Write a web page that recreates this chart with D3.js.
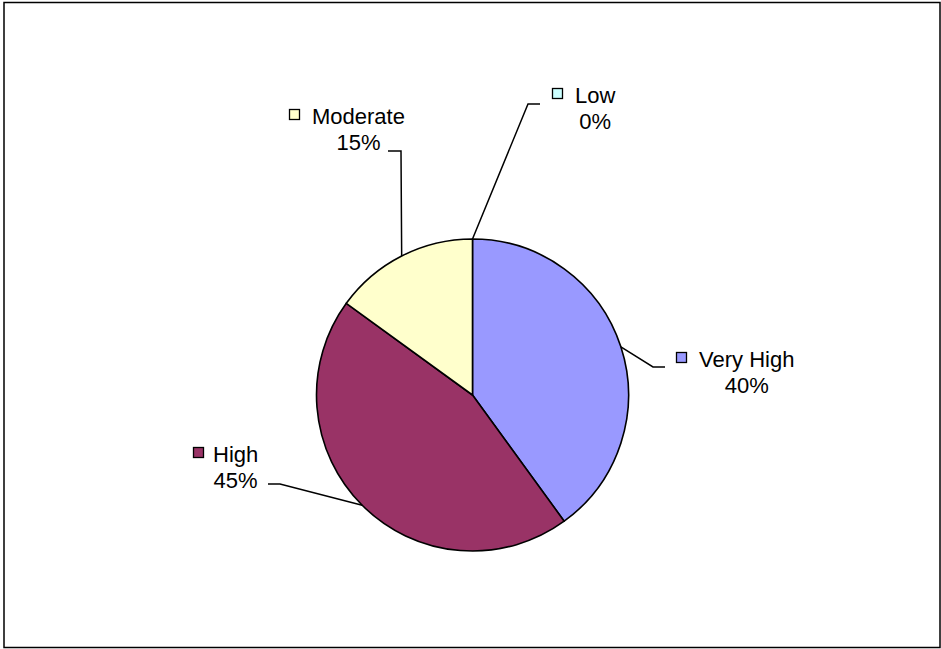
<!DOCTYPE html>
<html>
<head>
<meta charset="utf-8">
<script src="https://cdn.jsdelivr.net/npm/d3@7"></script>
<style>
  html, body { margin: 0; padding: 0; background: #fff; }
  svg { display: block; }
  text { font-family: "Liberation Sans", Arial, sans-serif; font-size: 22px; fill: #000; }
</style>
</head>
<body>
<svg id="chart" width="941" height="649"></svg>
<script>
// Risk level shares
const categories = ["Very High", "High", "Moderate", "Low"];
const values = [40, 45, 15, 0];
const colors = ["#9999FF", "#993366", "#FFFFCC", "#CCFFFF"];

// Label placement (text start, baselines, leader elbow) per category
const labelLayout = {
  "Very High": { keyX: 676, textX: 699, nameY: 367, pctY: 393, elbow: [[653, 367], [665, 367]] },
  "High":      { keyX: 193, textX: 213, nameY: 462, pctY: 488, elbow: [[280, 484], [268, 484]] },
  "Moderate":  { keyX: 289, textX: 312, nameY: 124, pctY: 150, elbow: [[401, 151], [388, 151]] },
  "Low":       { keyX: 552, textX: 575, nameY: 103, pctY: 129, elbow: [[528, 104], [540, 104]] }
};

const svg = d3.select("#chart");
const W = 941, H = 649;

// Outer frame
svg.append("rect")
  .attr("x", 4).attr("y", 2.5)
  .attr("width", 936).attr("height", 645)
  .attr("fill", "#fff")
  .attr("stroke", "#000").attr("stroke-width", 1.5);

const cx = 472.5, cy = 395, r = 156;
const total = d3.sum(values);

const data = categories.map((c, i) => ({ name: c, value: values[i], color: colors[i] }));

const pie = d3.pie().value(d => d.value).sort(null).startAngle(0).endAngle(2 * Math.PI);
const arcs = pie(data);
const arc = d3.arc().innerRadius(0).outerRadius(r);

const g = svg.append("g").attr("transform", `translate(${cx},${cy})`);

g.selectAll("path.slice")
  .data(arcs.filter(a => a.data.value > 0))
  .join("path")
  .attr("class", "slice")
  .attr("d", arc)
  .attr("fill", d => d.data.color)
  .attr("stroke", "#000")
  .attr("stroke-width", 1.6)
  .attr("stroke-linejoin", "round");

// Leader lines and labels
const fmt = d3.format(".0%");
arcs.forEach(a => {
  const L = labelLayout[a.data.name];
  const mid = (a.startAngle + a.endAngle) / 2;
  const px = cx + r * Math.sin(mid);
  const py = cy - r * Math.cos(mid);

  const pts = [[px, py]].concat(L.elbow);
  svg.append("path")
    .attr("d", d3.line()(pts))
    .attr("fill", "none")
    .attr("stroke", "#000")
    .attr("stroke-width", 1.5);

  svg.append("rect")
    .attr("x", L.keyX + 0.5).attr("y", L.nameY - 14.5)
    .attr("width", 10).attr("height", 10)
    .attr("fill", a.data.color)
    .attr("stroke", "#000").attr("stroke-width", 1.3);

  const name = svg.append("text")
    .attr("x", L.textX).attr("y", L.nameY)
    .text(a.data.name);
  const w = name.node().getComputedTextLength();

  svg.append("text")
    .attr("x", L.textX + w / 2).attr("y", L.pctY)
    .attr("text-anchor", "middle")
    .text(fmt(a.data.value / total));
});
</script>
</body>
</html>
